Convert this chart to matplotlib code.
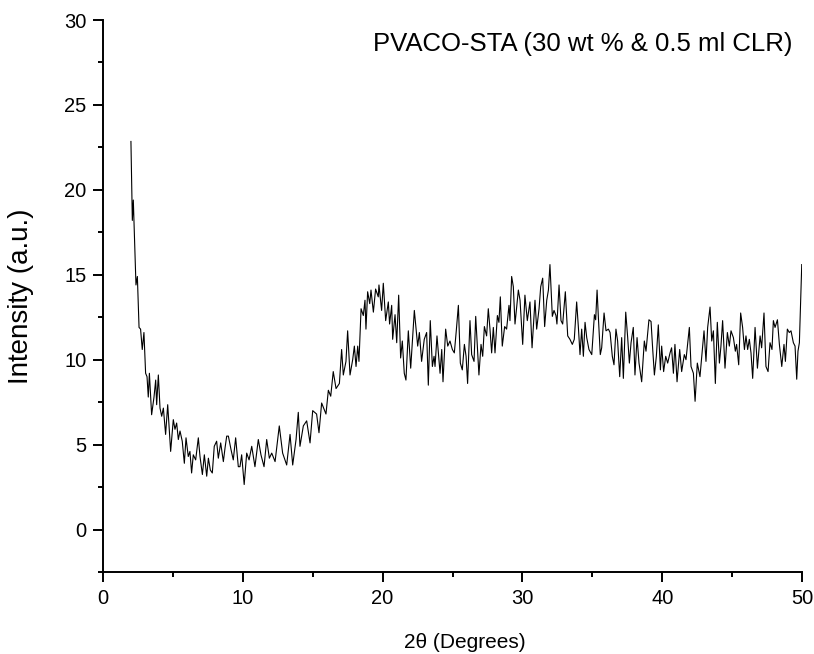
import matplotlib
matplotlib.use("Agg")
import matplotlib.pyplot as plt
from matplotlib.ticker import MultipleLocator

plt.rcParams["font.family"] = ["Liberation Sans", "DejaVu Sans"]

# XRD pattern (2-theta in degrees, intensity a.u.)
two_theta = [
    2.0, 2.1, 2.17, 2.36, 2.46, 2.58, 2.69, 2.81, 2.93, 3.05, 3.15, 3.24, 3.32,
    3.48, 3.65, 3.77, 3.84, 3.96, 4.08, 4.2, 4.32, 4.48, 4.63, 4.84, 5.03, 5.15,
    5.27, 5.39, 5.51, 5.67, 5.82, 5.94, 6.1, 6.22, 6.34, 6.46, 6.63, 6.82, 6.94,
    7.11, 7.25, 7.42, 7.54, 7.68, 7.82, 7.96, 8.13, 8.25, 8.42, 8.61, 8.73, 8.85,
    8.97, 9.16, 9.32, 9.49, 9.68, 9.8, 9.92, 10.1, 10.28, 10.45, 10.64, 10.87,
    11.11, 11.3, 11.52, 11.71, 11.9, 12.07, 12.31, 12.61, 12.85, 13.14, 13.38,
    13.57, 13.81, 13.97, 14.09, 14.33, 14.57, 14.81, 15.0, 15.28, 15.45, 15.64,
    15.95, 16.12, 16.29, 16.47, 16.67, 16.91, 17.07, 17.19, 17.38, 17.5, 17.67,
    17.86, 17.98, 18.1, 18.22, 18.31, 18.46, 18.62, 18.74, 18.81, 18.93, 19.08,
    19.17, 19.34, 19.5, 19.69, 19.74, 19.93, 20.05, 20.22, 20.41, 20.5, 20.65,
    20.72, 20.89, 21.01, 21.15, 21.29, 21.41, 21.55, 21.67, 21.84, 22.01, 22.27,
    22.51, 22.63, 22.79, 22.98, 23.15, 23.27, 23.41, 23.56, 23.68, 23.75, 23.89,
    24.11, 24.23, 24.32, 24.51, 24.66, 24.82, 24.99, 25.13, 25.27, 25.42, 25.56,
    25.7, 25.85, 25.97, 26.08, 26.25, 26.37, 26.54, 26.66, 26.78, 26.89, 27.04,
    27.16, 27.28, 27.44, 27.56, 27.68, 27.8, 27.92, 28.04, 28.21, 28.32, 28.42,
    28.56, 28.73, 28.87, 29.04, 29.11, 29.23, 29.35, 29.47, 29.71, 29.83, 30.02,
    30.18, 30.35, 30.54, 30.69, 30.9, 31.02, 31.19, 31.31, 31.45, 31.59, 31.74,
    31.86, 31.97, 32.14, 32.26, 32.4, 32.47, 32.62, 32.76, 32.88, 33.07, 33.24,
    33.4, 33.57, 33.71, 33.88, 34.0, 34.12, 34.24, 34.36, 34.48, 34.6, 34.76,
    34.96, 35.15, 35.24, 35.34, 35.43, 35.57, 35.67, 35.84, 35.98, 36.15, 36.27,
    36.43, 36.55, 36.69, 36.81, 36.96, 37.1, 37.22, 37.39, 37.53, 37.65, 37.77,
    37.93, 38.05, 38.2, 38.34, 38.53, 38.72, 38.84, 39.05, 39.2, 39.32, 39.44,
    39.58, 39.72, 39.87, 39.96, 40.1, 40.25, 40.39, 40.56, 40.67, 40.8, 40.91,
    41.06, 41.25, 41.39, 41.58, 41.7, 41.94, 42.06, 42.23, 42.35, 42.51, 42.7,
    42.82, 42.99, 43.13, 43.25, 43.42, 43.54, 43.66, 43.8, 43.94, 44.09, 44.2,
    44.32, 44.49, 44.66, 44.8, 44.92, 45.09, 45.23, 45.32, 45.47, 45.61, 45.75,
    45.88, 45.99, 46.11, 46.23, 46.35, 46.47, 46.64, 46.81, 47.0, 47.11, 47.28,
    47.42, 47.57, 47.71, 47.85, 47.95, 48.07, 48.24, 48.38, 48.55, 48.71, 48.81,
    48.95, 49.09, 49.21, 49.38, 49.5, 49.62, 49.71, 49.81, 49.98,
]
intensity = [
    22.85, 18.2, 19.4, 14.4, 14.9, 11.9, 11.8, 10.6, 11.6, 9.2, 9.0, 7.8, 9.2,
    6.76, 7.8, 8.8, 7.35, 9.1, 7.15, 6.67, 7.15, 5.6, 7.35, 4.6, 6.47, 5.9,
    6.27, 5.3, 5.8, 5.2, 3.9, 5.4, 4.3, 4.6, 3.33, 4.4, 4.1, 5.4, 4.3,
    3.24, 4.4, 3.14, 4.2, 3.5, 3.33, 4.9, 5.2, 4.2, 5.1, 4.0, 4.8, 5.5,
    5.5, 4.7, 4.1, 5.4, 3.7, 3.7, 4.4, 2.65, 4.5, 4.1, 4.9, 3.7,
    5.3, 4.4, 3.7, 5.3, 4.2, 4.5, 4.0, 6.1, 4.5, 3.8, 5.6,
    3.8, 5.3, 6.9, 4.9, 6.1, 6.4, 5.1, 7.0, 6.8, 5.7, 7.45,
    6.8, 8.2, 7.85, 9.3, 8.3, 8.6, 10.6, 9.1, 9.9, 11.7, 9.1,
    10.0, 10.8, 9.6, 10.8, 9.9, 13.0, 12.6, 13.5, 11.8, 14.0, 13.3,
    14.1, 12.8, 14.16, 13.7, 14.4, 12.9, 14.5, 12.3, 13.4, 12.1, 13.2,
    11.2, 12.65, 11.0, 13.8, 10.1, 11.1, 9.2, 8.8, 11.7, 9.5, 12.9,
    10.8, 11.6, 9.9, 11.2, 11.6, 8.5, 12.3, 9.6, 10.2, 9.6, 11.4,
    9.2, 10.6, 8.7, 11.8, 10.8, 11.1, 10.6, 10.4, 11.7, 13.2, 9.8,
    9.4, 10.9, 10.2, 8.6, 12.3, 10.3, 9.9, 12.55, 10.8, 9.1, 10.9,
    10.2, 11.95, 11.4, 13.0, 11.8, 10.4, 11.9, 10.4, 12.6, 12.2, 13.7,
    10.8, 11.95, 11.8, 13.2, 12.3, 14.9, 14.3, 12.1, 14.1, 13.5, 10.9,
    13.8, 12.3, 13.4, 10.7, 13.5, 11.8, 13.0, 14.3, 14.8, 11.95, 13.5,
    14.1, 15.6, 12.55, 12.9, 12.6, 12.1, 14.4, 12.3, 12.1, 14.0, 11.4,
    11.2, 10.9, 11.2, 13.4, 11.95, 10.3, 11.8, 10.2, 12.2, 11.3, 10.6,
    10.3, 12.65, 12.35, 14.1, 12.55, 10.3, 10.7, 12.75, 11.7, 11.8, 11.6,
    10.2, 9.7, 11.8, 11.1, 9.0, 11.3, 8.9, 12.8, 11.3, 9.8, 11.0,
    11.9, 9.1, 11.3, 9.8, 8.7, 11.1, 10.5, 12.35, 12.25, 10.6, 9.1,
    10.2, 12.05, 9.4, 10.8, 9.3, 10.2, 9.8, 10.4, 10.7, 9.2, 10.9,
    8.7, 10.6, 9.3, 10.3, 10.0, 11.9, 9.6, 9.2, 7.55, 9.8, 9.0,
    10.1, 11.7, 9.9, 11.9, 13.1, 11.1, 11.7, 8.6, 12.2, 9.8, 10.8,
    12.3, 9.5, 11.6, 10.8, 11.7, 11.3, 10.5, 10.9, 9.7, 12.75, 11.9,
    10.6, 11.4, 10.6, 11.2, 10.4, 8.9, 11.9, 9.5, 11.4, 10.7, 12.75,
    9.6, 9.3, 11.0, 10.6, 12.3, 11.9, 12.35, 10.9, 9.6, 10.9, 9.9,
    11.8, 11.6, 11.7, 11.0, 10.8, 8.85, 10.5, 11.0, 15.6,
]

fig = plt.figure(figsize=(8.14, 6.54), dpi=100)
ax = fig.add_axes([0.1265, 0.1254, 0.8588, 0.8440])

ax.plot(two_theta, intensity, color="black", linewidth=0.8)

ax.set_xlim(0, 50)
ax.set_ylim(-2.5, 30)
ax.xaxis.set_major_locator(MultipleLocator(10))
ax.xaxis.set_minor_locator(MultipleLocator(5))
ax.yaxis.set_major_locator(MultipleLocator(5))
ax.yaxis.set_minor_locator(MultipleLocator(2.5))

for side in ["top", "right"]:
    ax.spines[side].set_visible(False)
for side in ["left", "bottom"]:
    ax.spines[side].set_linewidth(1.4)

ax.tick_params(which="major", direction="out", length=7, width=1.4, labelsize=14.5, pad=5)
ax.tick_params(which="minor", direction="out", length=3.5, width=1.4)

ax.set_xlabel("2θ (Degrees)", fontsize=15)
ax.xaxis.set_label_coords(0.518, -0.11, transform=ax.transAxes)
ax.xaxis.label.set_va("top")
ax.set_ylabel("Intensity (a.u.)", fontsize=20)
ax.yaxis.set_label_coords(-0.099, 0.5, transform=ax.transAxes)

ax.text(0.987, 0.957, "PVACO-STA (30 wt % & 0.5 ml CLR)", transform=ax.transAxes,
        ha="right", va="center", fontsize=18.5)

fig.savefig("out.png", dpi=100)
